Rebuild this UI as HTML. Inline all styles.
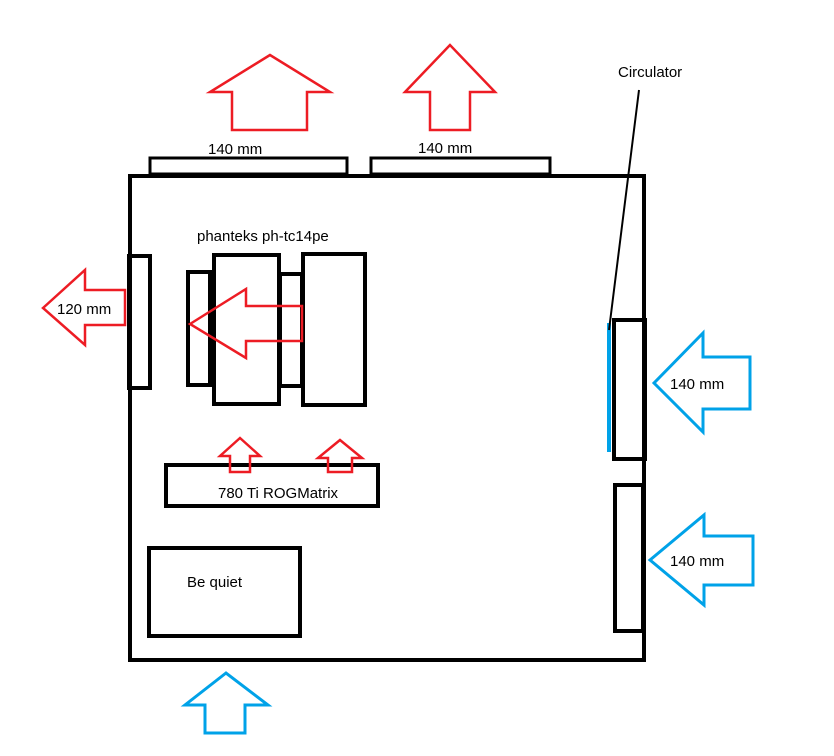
<!DOCTYPE html>
<html><head><style>body{margin:0;background:#fff}svg{display:block}text{font-family:"Liberation Sans",sans-serif;font-size:15px;fill:#000}</style></head>
<body>
<svg width="834" height="756" viewBox="0 0 834 756">
<g fill="none" stroke="#000" stroke-width="4">
<rect x="130" y="176" width="514" height="484"/>
<rect x="150" y="158" width="197" height="16" stroke-width="3"/>
<rect x="371" y="158" width="179" height="16" stroke-width="3"/>
<rect x="129" y="256" width="21" height="132"/>
<rect x="188" y="272" width="22" height="113"/>
<rect x="214" y="255" width="65" height="149"/>
<rect x="280" y="274" width="22" height="112"/>
<rect x="303" y="254" width="62" height="151"/>
<rect x="614" y="320" width="31" height="139"/>
<rect x="615" y="485" width="28" height="146"/>
<rect x="166" y="465" width="212" height="41"/>
<rect x="149" y="548" width="151" height="88"/>
</g>
<g fill="none" stroke="#ed1c24" stroke-width="2.5">
<polygon points="270,55 210,92 232,92 232,130 307,130 307,92 330,92"/>
<polygon points="450,45 405,92 430,92 430,130 470,130 470,92 495,92"/>
<polygon points="43,308 85,270 85,290 125,290 125,325 85,325 85,345"/>
<polygon points="190,324 246,289 246,306 302,306 302,341 246,341 246,358"/>
<polygon points="240,438 220,456 230,456 230,472 250,472 250,456 260,456"/>
<polygon points="340,440 318,458 328,458 328,472 352,472 352,458 362,458"/>
</g>
<g fill="none" stroke="#00a2e8" stroke-width="3">
<polygon points="654,383 703,333 703,357 750,357 750,409 703,409 703,432"/>
<polygon points="650,560 704,515 704,536 753,536 753,585 704,585 704,605"/>
<polygon points="226,673 185,705 205,705 205,733 245,733 245,705 268,705"/>
<line x1="609" y1="323" x2="609" y2="452" stroke-width="4"/>
</g>
<line x1="639" y1="90" x2="609" y2="330" stroke="#000" stroke-width="2"/>
<text x="208" y="154">140 mm</text>
<text x="418" y="153">140 mm</text>
<text x="618" y="77">Circulator</text>
<text x="197" y="241" fill="#000040">phanteks ph-tc14pe</text>
<text x="57" y="314">120 mm</text>
<text x="218" y="498">780 Ti ROGMatrix</text>
<text x="187" y="587">Be quiet</text>
<text x="670" y="389">140 mm</text>
<text x="670" y="566">140 mm</text>
</svg>
</body></html>
